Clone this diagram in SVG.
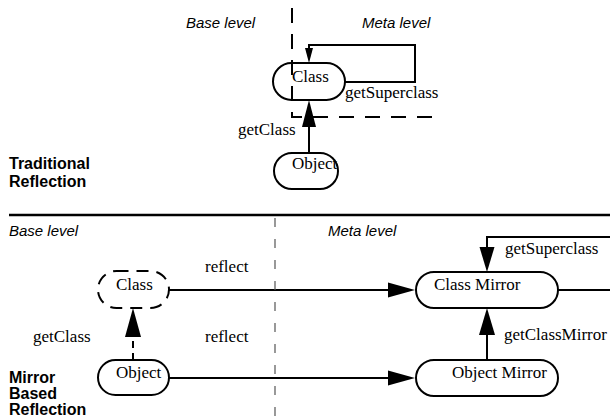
<svg xmlns="http://www.w3.org/2000/svg" width="610" height="420" viewBox="0 0 610 420">
<style>
.bg{fill:#fff}
.node{fill:#fff;stroke:#000;stroke-width:2}
.dnode{fill:#fff;stroke:#000;stroke-width:2;stroke-dasharray:12 8}
.lbl{font-family:"Liberation Serif","Times New Roman",serif;font-size:17px;fill:#000}
.lvl{font-family:"Liberation Sans",Arial,sans-serif;font-style:italic;font-size:15px;fill:#000}
.ttl{font-family:"Liberation Sans",Arial,sans-serif;font-weight:bold;font-size:16px;fill:#000}
.edge{fill:none;stroke:#000;stroke-width:2}
.head{fill:#000;stroke:none}
.sep{fill:none;stroke:#000;stroke-width:2;stroke-dasharray:15 11}
.sep2{fill:none;stroke:#555;stroke-width:1.2;stroke-dasharray:9 12}
</style>
<rect class="bg" x="0" y="0" width="610" height="420"/>

<g id="title-traditional">
<text class="ttl" x="9" y="169">Traditional</text>
<text class="ttl" x="9" y="187">Reflection</text>
</g>

<g id="connectors">
<!-- top getSuperclass loop -->
<path class="edge" d="M345,82 H415 V45 H309 V50"/>
<polygon class="head" points="309,63 305,48 313,48"/>
<!-- top getClass -->
<path class="edge" d="M309,153 V125"/>
<polygon class="head" points="309,100 302,127 316,127"/>
<!-- bottom reflect Class -> Class Mirror -->
<path class="edge" d="M169,290 H390"/>
<polygon class="head" points="415,290 388,282.5 388,297.5"/>
<!-- bottom reflect Object -> Object Mirror -->
<path class="edge" d="M169,378 H390"/>
<polygon class="head" points="415,378 388,370.5 388,385.5"/>
<!-- bottom getClass dashed -->
<path class="edge" d="M133,360 V334" stroke-dasharray="7 5"/>
<polygon class="head" points="133,308 125,337 141,337"/>
<!-- getClassMirror -->
<path class="edge" d="M487,360 V333"/>
<polygon class="head" points="487,308 479,335 495,335"/>
<!-- getSuperclass mirror -->
<path class="edge" d="M558,290 H610"/>
<path class="edge" d="M610,237 H487 V250"/>
<polygon class="head" points="487,272 479.5,247 494.5,247"/>
</g>

<g id="top-class">
<rect class="node" x="273" y="63" width="72" height="37" rx="18.5"/>
<text class="lbl" x="292" y="82">Class</text>
</g>
<g id="top-object">
<rect class="node" x="274" y="153" width="64" height="36" rx="18"/>
<text class="lbl" x="292" y="169">Object</text>
</g>
<g id="top-labels">
<text class="lbl" x="345" y="98">getSuperclass</text>
<text class="lbl" x="238" y="135">getClass</text>
</g>
<g id="top-levels">
<text class="lvl" x="186" y="28">Base level</text>
<text class="lvl" x="362" y="28">Meta level</text>
<path class="sep" d="M292,8 V117 H443"/>
</g>

<!-- Bottom: mirror based reflection -->
<g id="bottom-frame">
<path d="M9,215 H610" fill="none" stroke="#000" stroke-width="2.5"/>
<text class="lvl" x="9" y="236">Base level</text>
<text class="lvl" x="328" y="236">Meta level</text>
<path class="sep2" d="M275,218 V420"/>
</g>
<g id="title-mirror">
<text class="ttl" x="9" y="383">Mirror</text>
<text class="ttl" x="9" y="399">Based</text>
<text class="ttl" x="9" y="415">Reflection</text>
</g>

<g id="bottom-class">
<rect class="dnode" x="98" y="271" width="71" height="37" rx="18.5"/>
<text class="lbl" x="116" y="290">Class</text>
</g>
<g id="bottom-object">
<rect class="node" x="98" y="360" width="71" height="35" rx="17.5"/>
<text class="lbl" x="116" y="378">Object</text>
</g>
<g id="class-mirror">
<rect class="node" x="416" y="272" width="142" height="36" rx="18"/>
<text class="lbl" x="434" y="290">Class Mirror</text>
</g>
<g id="object-mirror">
<rect class="node" x="416" y="360" width="142" height="36" rx="18"/>
<text class="lbl" x="452" y="378">Object Mirror</text>
</g>
<g id="bottom-labels">
<text class="lbl" x="205" y="272">reflect</text>
<text class="lbl" x="205" y="342">reflect</text>
<text class="lbl" x="33" y="342">getClass</text>
<text class="lbl" x="505" y="254">getSuperclass</text>
<text class="lbl" x="504" y="340">getClassMirror</text>
</g>
</svg>
